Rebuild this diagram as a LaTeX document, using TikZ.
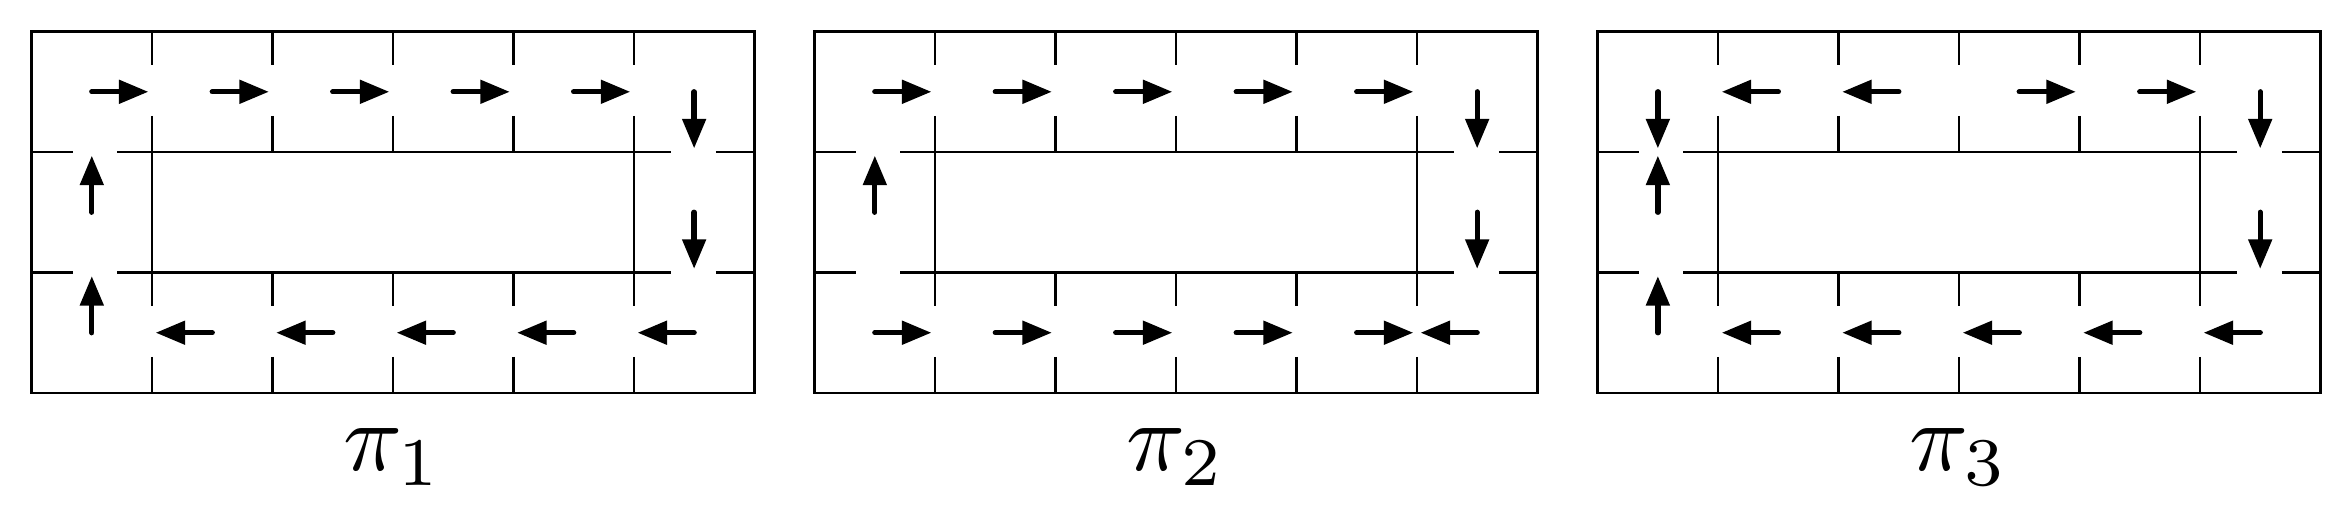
\documentclass[tikz,border=0pt]{standalone}
\usetikzlibrary{arrows.meta}
\tikzset{
  gridline/.style={line width=0.55pt},
  flowarrow/.style={line width=1.25pt, line cap=round, -{Triangle[length=2.45mm,width=1.9mm]}},
  panellabel/.style={anchor=base, inner sep=0pt, scale=2.3}
}
\newcommand{\drawpanelgrid}{%
  \draw[gridline] (0,0) rectangle (6,3);
  \foreach \y in {1,2}
    \draw[gridline] (0,\y)--(0.345,\y) (0.71,\y)--(5.31,\y) (5.68,\y)--(6,\y);
  \foreach \x in {2,3,4}
    \draw[gridline] (\x,3)--(\x,2.72) (\x,2.30)--(\x,2) (\x,1)--(\x,0.72) (\x,0.30)--(\x,0);
  \foreach \x in {1,5}
    \draw[gridline] (\x,3)--(\x,2.72) (\x,2.30)--(\x,0.72) (\x,0.30)--(\x,0);
}
\begin{document}
\begin{tikzpicture}[x=1cm,y=1cm]
\useasboundingbox (-0.262,-0.9964) rectangle (19.262,3.262);
% panel 1
\begin{scope}
  \drawpanelgrid
  \foreach \i/\j/\dx/\dy in {0/2/0.47/0,1/2/0.47/0,2/2/0.47/0,3/2/0.47/0,4/2/0.47/0,5/2/0/-0.47,
                             0/1/0/0.47,5/1/0/-0.47,
                             0/0/0/0.47,1/0/-0.47/0,2/0/-0.47/0,3/0/-0.47/0,4/0/-0.47/0,5/0/-0.47/0}
    \draw[flowarrow] (\i+0.5,\j+0.5) -- ++(\dx,\dy);
  \node[panellabel] (lab1) at (3,-0.647) {$\pi_1$};
\end{scope}
% panel 2
\begin{scope}[xshift=6.5cm]
  \drawpanelgrid
  \foreach \i/\j/\dx/\dy in {0/2/0.47/0,1/2/0.47/0,2/2/0.47/0,3/2/0.47/0,4/2/0.47/0,5/2/0/-0.47,
                             0/1/0/0.47,5/1/0/-0.47,
                             0/0/0.47/0,1/0/0.47/0,2/0/0.47/0,3/0/0.47/0,4/0/0.47/0,5/0/-0.47/0}
    \draw[flowarrow] (\i+0.5,\j+0.5) -- ++(\dx,\dy);
  \node[panellabel] (lab2) at (3,-0.647) {$\pi_2$};
\end{scope}
% panel 3
\begin{scope}[xshift=13cm]
  \drawpanelgrid
  \foreach \i/\j/\dx/\dy in {0/2/0/-0.47,1/2/-0.47/0,2/2/-0.47/0,3/2/0.47/0,4/2/0.47/0,5/2/0/-0.47,
                             0/1/0/0.47,5/1/0/-0.47,
                             0/0/0/0.47,1/0/-0.47/0,2/0/-0.47/0,3/0/-0.47/0,4/0/-0.47/0,5/0/-0.47/0}
    \draw[flowarrow] (\i+0.5,\j+0.5) -- ++(\dx,\dy);
  \node[panellabel] (lab3) at (3,-0.647) {$\pi_3$};
\end{scope}
\end{tikzpicture}
\end{document}
